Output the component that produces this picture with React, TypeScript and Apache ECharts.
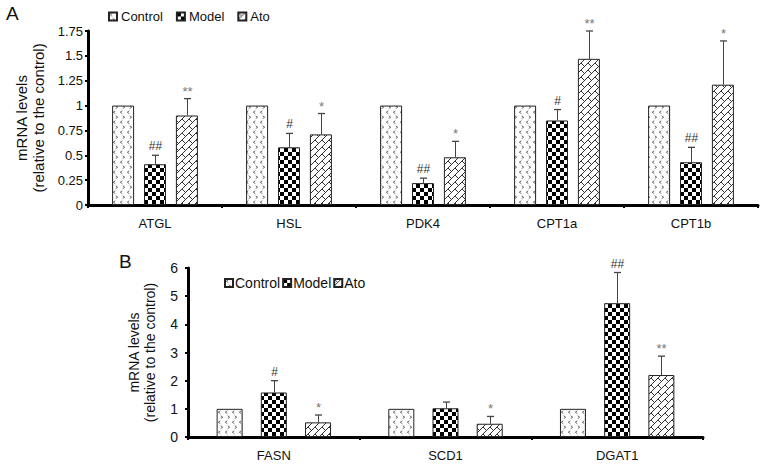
import React, { useEffect, useRef } from 'react';
import * as echarts from 'echarts';

// ---- Panel A data ----
const genesA = ['ATGL', 'HSL', 'PDK4', 'CPT1a', 'CPT1b'];
const controlA = [1, 1, 1, 1, 1];
const modelA = [0.41, 0.58, 0.22, 0.85, 0.43];
const atoA = [0.9, 0.71, 0.48, 1.47, 1.21];
const modelErrA = [0.09, 0.14, 0.05, 0.11, 0.15];
const atoErrA = [0.17, 0.21, 0.16, 0.28, 0.44];
const modelSigA = ['##', '#', '##', '#', '##'];
const atoSigA = ['**', '*', '*', '**', '*'];
const yMaxA = 1.75;
const yIntervalA = 0.25;

// ---- Panel B data ----
const genesB = ['FASN', 'SCD1', 'DGAT1'];
const controlB = [1, 1, 1];
const modelB = [1.58, 1.02, 4.75];
const atoB = [0.52, 0.47, 2.2];
const modelErrB = [0.42, 0.22, 1.09];
const atoErrB = [0.26, 0.26, 0.67];
const modelSigB = ['#', '', '##'];
const atoSigB = ['*', '*', '**'];
const yMaxB = 6;
const yIntervalB = 1;

const legendNames = ['Control', 'Model', 'Ato'];
const FONT = '"Liberation Sans", Arial, Helvetica, sans-serif';

function makeControlPattern() {
  const c = document.createElement('canvas');
  c.width = 7; c.height = 10;
  const ctx = c.getContext('2d')!;
  ctx.fillStyle = '#fff';
  ctx.fillRect(0, 0, 7, 10);
  ctx.strokeStyle = '#555';
  ctx.lineWidth = 0.9;
  ctx.beginPath();
  ctx.moveTo(3.3, 0.8); ctx.lineTo(1.3, 2.2); ctx.lineTo(3.3, 3.6);
  ctx.stroke();
  ctx.beginPath();
  ctx.moveTo(3.7, 5.8); ctx.lineTo(5.7, 7.2); ctx.lineTo(3.7, 8.6);
  ctx.stroke();
  return c;
}

function makeModelPattern() {
  const c = document.createElement('canvas');
  c.width = 8; c.height = 8;
  const ctx = c.getContext('2d')!;
  ctx.fillStyle = '#fff';
  ctx.fillRect(0, 0, 8, 8);
  ctx.fillStyle = '#000';
  ctx.fillRect(0, 0, 4, 4);
  ctx.fillRect(4, 4, 4, 4);
  return c;
}

function makeAtoPattern() {
  const S = 14;
  const c = document.createElement('canvas');
  c.width = S; c.height = S;
  const ctx = c.getContext('2d')!;
  ctx.fillStyle = '#fff';
  ctx.fillRect(0, 0, S, S);
  ctx.strokeStyle = '#333';
  ctx.lineWidth = 1;
  ctx.beginPath();
  for (let i = -2; i <= 2; i++) {
    for (let j = -2; j <= 2; j++) {
      const ox = i * S, oy = j * S;
      // "/" lines: x + y = 0 and x + y = 7
      for (const cc of [0, 7]) {
        ctx.moveTo(ox + cc + 20, oy - 20);
        ctx.lineTo(ox + cc - 20, oy + 20);
      }
      // "\" connectors
      const pts = [[0, 0], [7, -7], [7, 0], [14, -7]];
      for (const p of pts) {
        ctx.moveTo(ox + p[0], oy + p[1]);
        ctx.lineTo(ox + p[0] + 3.5, oy + p[1] + 3.5);
      }
    }
  }
  ctx.stroke();
  return c;
}

function errSeries(
  values: number[], errs: number[], sigs: string[], slot: number,
  barW: number, gapRatio: number, axisIdx: number
) {
  const data = values.map((v, i) => [i, v, errs[i]]);
  return {
    type: 'custom',
    xAxisIndex: axisIdx,
    yAxisIndex: axisIdx,
    data,
    z: 5,
    silent: true,
    renderItem: (params: any, api: any) => {
      const cat = api.value(0);
      const val = api.value(1);
      const err = api.value(2);
      const sig = sigs[params.dataIndex];
      const off = slot * barW * (1 + gapRatio);
      const base = api.coord([cat, val]);
      const top = api.coord([cat, val + err]);
      const x = Math.round(base[0] + off) + 0.5;
      const children: any[] = [
        {
          type: 'line',
          shape: { x1: x, y1: base[1], x2: x, y2: top[1] },
          style: { stroke: '#444', lineWidth: 1 },
        },
        {
          type: 'line',
          shape: { x1: x - 3.5, y1: top[1], x2: x + 3.5, y2: top[1] },
          style: { stroke: '#444', lineWidth: 1.3 },
        },
      ];
      if (sig) {
        const star = sig.startsWith('*');
        children.push({
          type: 'text',
          x,
          y: top[1] - (star ? 1 : 3),
          style: {
            text: sig,
            textAlign: 'center',
            textVerticalAlign: 'bottom',
            fontSize: star ? 13 : 12,
            fontFamily: FONT,
            fill: star ? '#777' : '#333',
          },
        });
      }
      return { type: 'group', children };
    },
  };
}

export default function App() {
  const ref = useRef<HTMLDivElement>(null);

  useEffect(() => {
    document.body.style.margin = '0';
    if (!ref.current) return;
    const chart = echarts.init(ref.current, null, { renderer: 'svg' });

    const pControl = { image: makeControlPattern(), repeat: 'repeat', imageWidth: 7, imageHeight: 10 };
    const pModel = { image: makeModelPattern(), repeat: 'repeat', imageWidth: 8, imageHeight: 8 };
    const pAto = { image: makeAtoPattern(), repeat: 'repeat', imageWidth: 14, imageHeight: 14 };
    const patterns = [pControl, pModel, pAto];

    const barWA = 22, gapA = 0.45;
    const barWB = 26, gapB = 0.7;

    const axisLine = { show: true, lineStyle: { color: '#000', width: 3 } };
    const axisTick = { show: true, length: 3, lineStyle: { color: '#000', width: 2 } };

    const barSeries = (name: string, vals: number[], idx: number, axisIdx: number, bw: number, gap: number) => ({
      type: 'bar',
      name,
      xAxisIndex: axisIdx,
      yAxisIndex: axisIdx,
      data: vals,
      barWidth: bw,
      barGap: `${gap * 100}%`,
      itemStyle: { color: patterns[idx] as any, borderColor: '#222', borderWidth: 1 },
    });

    const nameText = 'mRNA levels\n(relative to the control)';

    chart.setOption({
      animation: false,
      backgroundColor: '#fff',
      textStyle: { fontFamily: FONT, color: '#111' },
      graphic: [
        { type: 'text', left: 6, top: 4, style: { text: 'A', fontSize: 19, fontFamily: FONT, fill: '#111' } },
        { type: 'text', left: 119, top: 252, style: { text: 'B', fontSize: 19, fontFamily: FONT, fill: '#111' } },
      ],
      legend: [
        {
          left: 103, top: 5,
          itemWidth: 8, itemHeight: 8, itemGap: 13,
          icon: 'rect',
          textStyle: { fontSize: 13, fontFamily: FONT, color: '#111', padding: [0, 0, 0, -1] },
          data: legendNames.map((n) => ({ name: n })),
        },
        {
          left: 219, top: 271,
          itemWidth: 8, itemHeight: 8, itemGap: 2,
          icon: 'rect',
          textStyle: { fontSize: 14, fontFamily: FONT, color: '#111', padding: [0, 0, 0, -3] },
          data: legendNames.map((n) => ({ name: n })),
        },
      ],
      grid: [
        { left: 88, right: 7, top: 31, bottom: 260 },
        { left: 188, right: 62, top: 268, bottom: 28 },
      ],
      xAxis: [
        {
          type: 'category', gridIndex: 0, data: genesA,
          axisLine, axisTick,
          axisLabel: { fontSize: 13, color: '#111', margin: 12, fontFamily: FONT },
        },
        {
          type: 'category', gridIndex: 1, data: genesB,
          axisLine, axisTick,
          axisLabel: { fontSize: 13, color: '#111', margin: 12, fontFamily: FONT },
        },
      ],
      yAxis: [
        {
          type: 'value', gridIndex: 0, min: 0, max: yMaxA, interval: yIntervalA,
          axisLine, axisTick, splitLine: { show: false },
          axisLabel: { fontSize: 13, color: '#111', margin: 5, fontFamily: FONT },
          name: nameText, nameLocation: 'middle', nameGap: 41,
          nameTextStyle: { fontSize: 15, color: '#111', lineHeight: 17, fontFamily: FONT, align: 'center' },
        },
        {
          type: 'value', gridIndex: 1, min: 0, max: yMaxB, interval: yIntervalB,
          axisLine, axisTick, splitLine: { show: false },
          axisLabel: { fontSize: 14, color: '#111', margin: 10, fontFamily: FONT },
          name: nameText, nameLocation: 'middle', nameGap: 30,
          nameTextStyle: { fontSize: 14, color: '#111', lineHeight: 16, fontFamily: FONT, align: 'center' },
        },
      ],
      series: [
        barSeries('Control', controlA, 0, 0, barWA, gapA),
        barSeries('Model', modelA, 1, 0, barWA, gapA),
        barSeries('Ato', atoA, 2, 0, barWA, gapA),
        barSeries('Control', controlB, 0, 1, barWB, gapB),
        barSeries('Model', modelB, 1, 1, barWB, gapB),
        barSeries('Ato', atoB, 2, 1, barWB, gapB),
        errSeries(modelA, modelErrA, modelSigA, 0, barWA, gapA, 0),
        errSeries(atoA, atoErrA, atoSigA, 1, barWA, gapA, 0),
        errSeries(modelB, modelErrB, modelSigB, 0, barWB, gapB, 1),
        errSeries(atoB, atoErrB, atoSigB, 1, barWB, gapB, 1),
      ] as any,
    });

    return () => chart.dispose();
  }, []);

  return (
    <div
      ref={ref}
      style={{ width: 765, height: 465, position: 'absolute', left: 0, top: 0 }}
    />
  );
}
